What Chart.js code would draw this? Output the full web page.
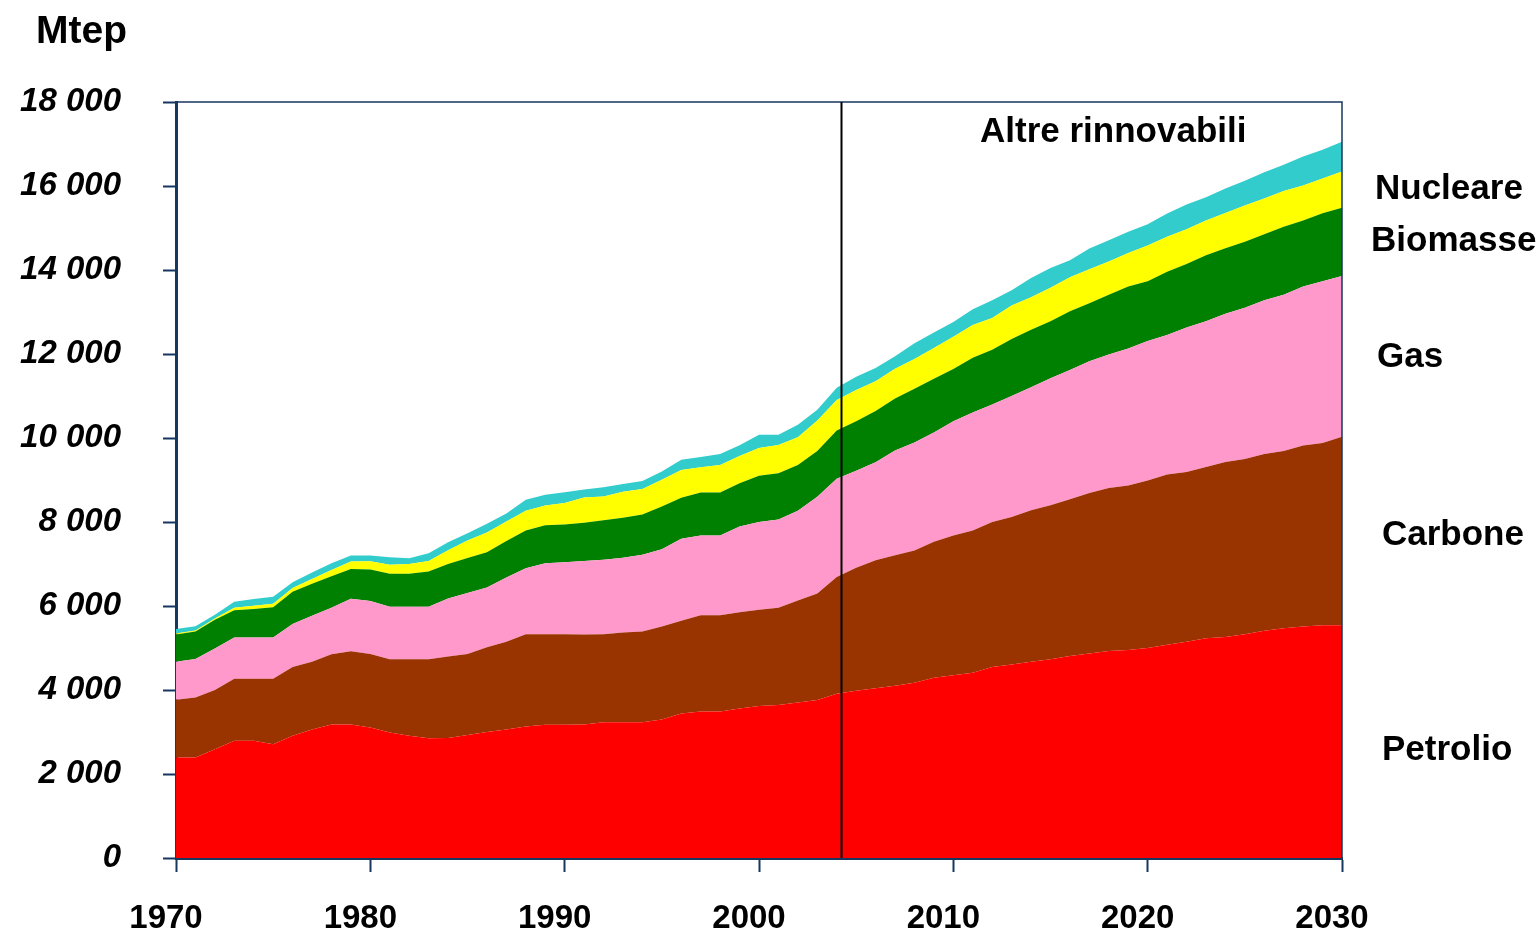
<!DOCTYPE html>
<html>
<head>
<meta charset="utf-8">
<script src="https://cdn.jsdelivr.net/npm/chart.js@4.4.1/dist/chart.umd.min.js"></script>
<style>
  html, body { margin: 0; padding: 0; background: #ffffff; }
  #wrap { width: 1540px; height: 935px; }
</style>
</head>
<body>
<div id="wrap"><canvas id="c" width="1540" height="935"></canvas></div>
<script>
// ---- data (Mtep) ----
const years = [1970,1971,1972,1973,1974,1975,1976,1977,1978,1979,
  1980,1981,1982,1983,1984,1985,1986,1987,1988,1989,
  1990,1991,1992,1993,1994,1995,1996,1997,1998,1999,
  2000,2001,2002,2003,2004,2005,2006,2007,2008,2009,
  2010,2011,2012,2013,2014,2015,2016,2017,2018,2019,
  2020,2021,2022,2023,2024,2025,2026,2027,2028,2029,2030];

const petrolio = [2390,2390,2590,2790,2790,2710,2910,3060,3180,3180,
  3110,2990,2910,2850,2860,2930,3000,3060,3130,3170,
  3170,3180,3230,3230,3230,3300,3440,3490,3490,3560,
  3620,3640,3700,3760,3910,3980,4040,4100,4170,4290,
  4350,4410,4550,4610,4670,4730,4810,4870,4930,4950,
  5000,5080,5150,5230,5260,5330,5410,5470,5510,5540,5540];

const carbone = [1380,1430,1410,1480,1480,1560,1640,1610,1670,1740,
  1750,1740,1820,1880,1940,1930,2020,2090,2200,2160,
  2160,2140,2100,2140,2160,2210,2210,2290,2290,2290,
  2290,2320,2430,2540,2780,2930,3050,3110,3150,3240,
  3330,3390,3450,3510,3610,3670,3730,3820,3880,3920,
  3990,4050,4040,4080,4170,4170,4210,4220,4310,4340,4490];

const gas = [900,920,990,980,980,980,1020,1100,1110,1250,
  1260,1250,1250,1250,1380,1450,1420,1530,1570,1690,
  1710,1750,1770,1780,1830,1840,1950,1900,1900,2040,
  2090,2100,2140,2300,2340,2310,2330,2490,2570,2600,
  2720,2810,2800,2880,2930,3020,3080,3140,3180,3260,
  3320,3320,3440,3470,3530,3600,3660,3720,3790,3850,3830];

const biomasse = [650,650,680,650,680,720,770,760,750,710,
  750,790,790,840,820,830,840,870,900,900,
  900,910,940,950,960,1020,980,1020,1020,1030,
  1100,1100,1090,1090,1150,1180,1220,1240,1280,1280,
  1240,1300,1300,1360,1370,1360,1400,1380,1420,1480,
  1420,1510,1510,1570,1560,1570,1570,1620,1570,1620,1620];

const nucleare = [25,25,30,60,75,85,90,110,150,180,
  195,215,230,250,330,420,470,460,470,475,
  515,605,565,620,605,635,660,605,660,650,
  660,675,660,725,725,745,710,710,710,735,
  770,780,755,795,770,795,805,805,795,795,
  855,830,830,830,840,865,850,850,830,830,865];

const altreRinnovabili = [110,100,90,140,160,165,135,160,155,140,
  135,175,135,185,185,170,210,190,260,255,
  255,190,220,185,190,200,240,240,260,260,
  315,240,295,255,290,315,315,295,375,365,
  350,375,425,365,460,470,410,495,505,505,
  505,555,590,555,580,590,625,625,695,685,710];

const seriesNames = ['Petrolio','Carbone','Gas','Biomasse','Nucleare','Altre rinnovabili'];
const seriesValues = [petrolio, carbone, gas, biomasse, nucleare, altreRinnovabili];
const seriesColors = ['#FF0000','#993300','#FF99CC','#008000','#FFFF00','#33CCCC'];

const xTicks = [1970,1980,1990,2000,2010,2020,2030];
const yMax = 18000, yStep = 2000;
const dividerYear = 2004.2;   // history / projections separator
const unitLabel = 'Mtep';

// ---- chart ----
const FONT = "'Liberation Sans', Arial, Helvetica, sans-serif";
const NAVY = '#17375E';

const datasets = seriesNames.map((name, i) => ({
  label: name,
  data: years.map((y, j) => ({ x: y, y: seriesValues[i][j] })),
  backgroundColor: seriesColors[i],
  borderColor: seriesColors[i],
  borderWidth: 0,
  pointRadius: 0,
  pointHoverRadius: 0,
  tension: 0,
  fill: i === 0 ? 'origin' : '-1'
}));

const labelsPlugin = {
  id: 'annotations',
  afterDatasetsDraw(chart) {
    const { ctx, chartArea: a, scales } = chart;
    ctx.save();
    // frame top + right
    ctx.strokeStyle = NAVY;
    ctx.lineWidth = 1.5;
    ctx.beginPath();
    ctx.moveTo(a.left, a.top);
    ctx.lineTo(a.right, a.top);
    ctx.lineTo(a.right, a.bottom);
    ctx.stroke();
    // divider line
    const xd = Math.round(scales.x.getPixelForValue(dividerYear)) + 0.5;
    ctx.strokeStyle = '#000000';
    ctx.lineWidth = 2;
    ctx.beginPath();
    ctx.moveTo(xd, a.top);
    ctx.lineTo(xd, a.bottom);
    ctx.stroke();
    ctx.restore();
  },
  afterDraw(chart) {
    const { ctx, chartArea: a } = chart;
    ctx.save();
    ctx.fillStyle = '#000000';
    ctx.textBaseline = 'alphabetic';
    ctx.textAlign = 'left';
    ctx.font = `bold 39px ${FONT}`;
    ctx.fillText(unitLabel, 36, 43);
    ctx.font = `bold 35px ${FONT}`;
    ctx.fillText(seriesNames[5], a.right - 362, 142);
    const rx = a.right;
    ctx.fillText(seriesNames[4], rx + 33, 199);
    ctx.fillText(seriesNames[3], rx + 29, 251);
    ctx.fillText(seriesNames[2], rx + 35, 367);
    ctx.fillText(seriesNames[1], rx + 40, 545);
    ctx.fillText(seriesNames[0], rx + 40, 760);
    ctx.restore();
  }
};

new Chart(document.getElementById('c'), {
  type: 'line',
  data: { datasets },
  options: {
    responsive: false,
    animation: false,
    devicePixelRatio: 1,
    layout: { padding: { left: 0, right: 198, top: 102, bottom: 0 } },
    plugins: { legend: { display: false }, tooltip: { enabled: false } },
    elements: { line: { borderWidth: 0 } },
    scales: {
      x: {
        type: 'linear',
        min: xTicks[0],
        max: xTicks[xTicks.length - 1],
        afterBuildTicks(scale) { scale.ticks = xTicks.map(v => ({ value: v })); },
        afterFit(scale) { scale.height = 77; },
        border: { display: true, color: NAVY, width: 3 },
        grid: { display: true, drawOnChartArea: false, drawTicks: true, tickLength: 14, tickColor: NAVY, tickWidth: 2 },
        ticks: {
          color: '#000000',
          font: { family: FONT, size: 33, weight: 'bold' },
          padding: 27,
          labelOffset: -10,
          maxRotation: 0,
          autoSkip: false,
          callback: v => String(v)
        }
      },
      y: {
        stacked: true,
        min: 0,
        max: yMax,
        afterFit(scale) { scale.width = 176; },
        border: { display: true, color: NAVY, width: 3 },
        grid: { display: true, drawOnChartArea: false, drawTicks: true, tickLength: 13, tickColor: NAVY, tickWidth: 2 },
        ticks: {
          stepSize: yStep,
          color: '#000000',
          font: { family: FONT, size: 33, weight: 'bold', style: 'italic' },
          padding: 42,
          callback: v => String(v).replace(/\B(?=(\d{3})+(?!\d))/g, ' ')
        }
      }
    }
  },
  plugins: [labelsPlugin]
});
</script>
</body>
</html>
